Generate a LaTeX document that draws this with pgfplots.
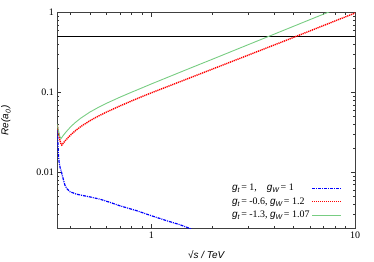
\documentclass[border=0pt]{standalone}
\usepackage{fontspec}
\setmainfont{Liberation Serif}
\setsansfont{Liberation Sans}
\usepackage{pgfplots}
\pgfplotsset{compat=1.18}
\usetikzlibrary{calc}
\newcommand{\gsub}[1]{{\sffamily\itshape g}\raisebox{-0.4ex}{\sffamily\itshape\fontsize{7}{8}\selectfont #1}}
\begin{document}
\fontsize{10}{12}\selectfont
\begin{tikzpicture}
\begin{loglogaxis}[
  scale only axis, width=297.7bp, height=215.3bp,
  xmin=0.345, xmax=10, ymin=0.002, ymax=1,
  xtick={1,10}, xticklabels={1,10},
  ytick={0.01,0.1,1}, yticklabels={0.01,0.1,1},
  minor xtick={0.4,0.5,0.6,0.7,0.8,0.9,2,3,4,5,6,7,8,9},
  minor ytick={0.003,0.004,0.005,0.006,0.007,0.008,0.009,0.02,0.03,0.04,0.05,0.06,0.07,0.08,0.09,0.2,0.3,0.4,0.5,0.6,0.7,0.8,0.9},
  major tick length=4bp, minor tick length=2bp,
  tick style={black!80, line width=0.5bp},
  axis line style={black!75, line width=0.8bp},
  tick label style={font=\fontsize{10}{12}\selectfont},
  ylabel={\sffamily\itshape Re(a\raisebox{-0.4ex}{\fontsize{7}{8}\selectfont 0}\,)},
  xlabel={\sffamily\itshape √s / TeV},
  label style={font=\fontsize{10}{12}\selectfont},
  ylabel style={at={(axis description cs:-0.145,0.5)}, anchor=south},
  xlabel style={at={(axis description cs:0.5,-0.088)}, anchor=north},
  legend plot pos=right,
  legend cell align=left,
  legend style={at={(rel axis cs:0.96,0.025)}, anchor=south east, draw=none, fill=none,
     font=\fontsize{10}{12}\selectfont, row sep=1.5bp, inner sep=1bp},
]
\addplot[black, line width=1bp, forget plot] coordinates {(0.345,0.5) (10,0.5)};
\addplot[blue, line width=1.2bp, dash pattern=on 3bp off 1bp on 1bp off 1bp,
  legend image code/.code={\draw[blue, line width=1.2bp, dash pattern=on 3bp off 1bp on 1bp off 1bp] (0bp,0bp) -- (29bp,0bp);}] coordinates {
(0.345,0.034) (0.347,0.025) (0.349,0.0175) (0.352,0.0135) (0.356,0.0115) (0.363,0.0097)
(0.37,0.0080) (0.376,0.0069) (0.385,0.0062) (0.398,0.0057) (0.43,0.0053) (0.462,0.0051)
(0.5,0.0049) (0.558,0.0046) (0.625,0.0042) (0.7,0.0038) (0.845,0.0033) (1,0.00285)
(1.2,0.00245) (1.38,0.0022) (1.5,0.00203) (1.6,0.0019)};
\addlegendentry{\gsub{t}\,= 1,\quad\gsub{W}\,= 1}
\addplot[color=red, line width=1.4bp, dash pattern=on 1.2bp off 0.8bp,
  legend image code/.code={\draw[red, line width=1.4bp, dash pattern=on 1.2bp off 0.8bp] (0bp,0bp) -- (29bp,0bp);}] coordinates {
(0.345,0.039) (0.35,0.031) (0.355,0.0255) (0.36,0.0225) (0.363,0.0219) (0.37,0.02335)
(0.38,0.02536) (0.4,0.02915) (0.42,0.03265) (0.45,0.0374) (0.5,0.0444) (0.55,0.0507)
(0.6,0.0566) (0.7,0.0677) (0.8,0.0784) (0.9,0.0889) (1,0.099) (1.5,0.148) (2,0.197)
(3,0.295) (4,0.393) (5,0.491) (7,0.69) (10,0.99)};
\addlegendentry{\gsub{t}\,= -0.6, \gsub{W}\,= 1.2}
\addplot[color={rgb,255:red,120;green,205;blue,130}, line width=0.9bp,
  legend image code/.code={\draw[color={rgb,255:red,120;green,205;blue,130}, line width=0.9bp] (0bp,0bp) -- (29bp,0bp);}] coordinates {
(0.345,0.04) (0.35,0.0325) (0.355,0.028) (0.36,0.0265) (0.37,0.0292) (0.38,0.0318)
(0.4,0.0368) (0.42,0.0414) (0.45,0.0477) (0.5,0.057) (0.55,0.0652) (0.6,0.0729)
(0.7,0.0872) (0.8,0.1009) (0.9,0.1143) (1,0.128) (1.5,0.195) (2,0.262) (3,0.399)
(4,0.537) (5,0.677) (7,0.959) (7.6,1.043)};
\addlegendentry{\gsub{t}\,= -1.3, \gsub{W}\,= 1.07}
\end{loglogaxis}
\pgfresetboundingbox
\path[use as bounding box] ($(current axis.south west)+(-57.3bp,-34bp)$) rectangle ($(current axis.north east)+(19bp,12.7bp)$);
\end{tikzpicture}
\end{document}
